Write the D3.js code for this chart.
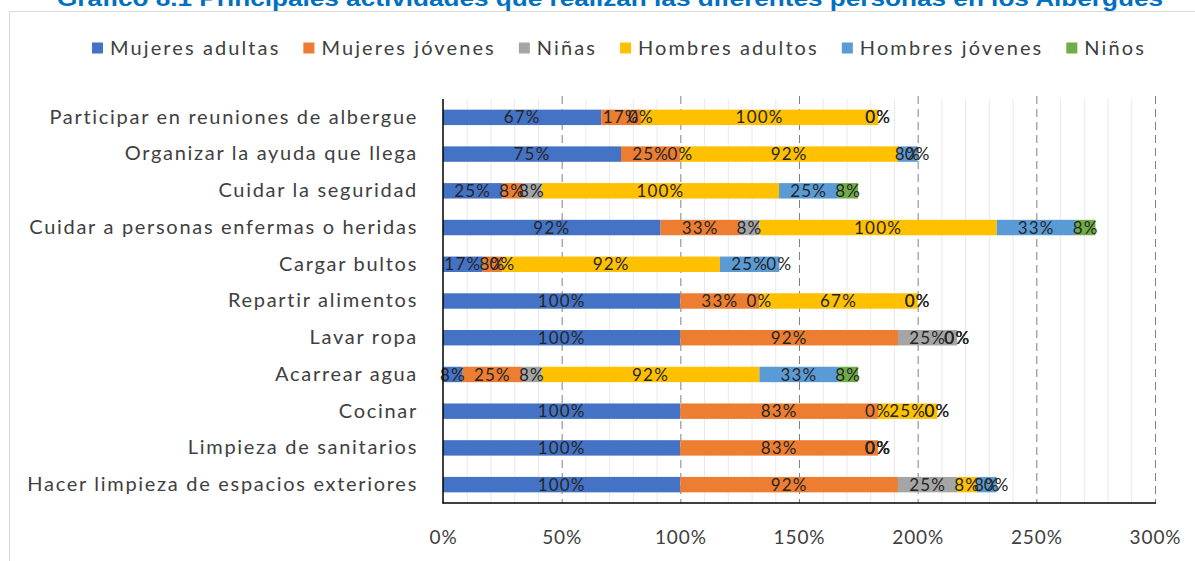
<!DOCTYPE html>
<html>
<head>
<meta charset="utf-8">
<script src="https://d3js.org/d3.v7.min.js"></script>
<style>
  body { margin:0; background:#fff; }
  svg { display:block; }
  text { font-family: Lato, "Open Sans", sans-serif; }
</style>
</head>
<body>
<script>
// datos (porcentajes)
var categories = [
  "Participar en reuniones de albergue",
  "Organizar la ayuda que llega",
  "Cuidar la seguridad",
  "Cuidar a personas enfermas o heridas",
  "Cargar bultos",
  "Repartir alimentos",
  "Lavar ropa",
  "Acarrear agua",
  "Cocinar",
  "Limpieza de sanitarios",
  "Hacer limpieza de espacios exteriores"
];
var seriesNames = ["Mujeres adultas", "Mujeres jóvenes", "Niñas", "Hombres adultos", "Hombres jóvenes", "Niños"];
var seriesColors = ["#4472C4", "#ED7D31", "#A5A5A5", "#FFC000", "#5B9BD5", "#70AD47"];
var mujeresAdultas = [66.7, 75, 25, 91.7, 16.7, 100, 100, 8.3, 100, 100, 100];
var mujeresJovenes = [16.7, 25, 8.3, 33.3, 8.3, 33.3, 91.7, 25, 83.3, 83.3, 91.7];
var ninas = [0, 0, 8.3, 8.3, 0, 0, 25, 8.3, 0, 0, 25];
var hombresAdultos = [100, 91.7, 100, 100, 91.7, 66.7, 0, 91.7, 25, 0, 8.3];
var hombresJovenes = [0, 8.3, 25, 33.3, 25, 0, 0, 33.3, 0, 0, 8.3];
var ninos = [0, 0, 8.3, 8.3, 0, 0, 0, 8.3, 0, 0, 0];
var xTicks = [0, 50, 100, 150, 200, 250, 300];
var title = "Gráfico 8.1 Principales actividades que realizan las diferentes personas en los Albergues";

var W = 1195, H = 561;
var seriesValues = [mujeresAdultas, mujeresJovenes, ninas, hombresAdultos, hombresJovenes, ninos];

var rows = categories.map(function (c, i) {
  var r = { cat: c };
  seriesNames.forEach(function (s, j) { r[s] = seriesValues[j][i]; });
  return r;
});
var stacked = d3.stack().keys(seriesNames)(rows);

var svg = d3.select("body").append("svg")
  .attr("width", W)
  .attr("height", H);

// marco del area del grafico
svg.append("rect")
  .attr("x", 9.5).attr("y", 11.5)
  .attr("width", 1300).attr("height", 700)
  .attr("fill", "none")
  .attr("stroke", "#d9d9d9");

svg.append("text")
  .attr("x", 610).attr("y", 6)
  .attr("text-anchor", "middle")
  .attr("textLength", 1106)
  .attr("lengthAdjust", "spacingAndGlyphs")
  .style("font-family", "'Liberation Sans', Arial, sans-serif")
  .style("font-weight", "bold")
  .style("font-size", "22px")
  .attr("fill", "#0070C0")
  .text(title);

var x = d3.scaleLinear().domain([0, 300]).range([443, 1155]);
var y = d3.scaleBand().domain(categories).range([99, 503]).paddingInner(0.58).paddingOuter(0.29);

// lineas de division menores y mayores
var minor = d3.range(10, 300, 10).filter(function (d) { return d % 50 != 0; });
svg.append("g").selectAll("line")
  .data(minor)
  .enter().append("line")
  .attr("x1", function (d) { return x(d) + 0.5; })
  .attr("x2", function (d) { return x(d) + 0.5; })
  .attr("y1", 99).attr("y2", 503)
  .attr("stroke", "#e9e9e9");

svg.append("g").selectAll("line")
  .data(xTicks.slice(1))
  .enter().append("line")
  .attr("x1", function (d) { return x(d) + 0.5; })
  .attr("x2", function (d) { return x(d) + 0.5; })
  .attr("y1", 96).attr("y2", 503)
  .attr("stroke", "#808080")
  .attr("stroke-dasharray", "8,5");

// barras
var groups = svg.append("g").selectAll("g")
  .data(stacked)
  .enter().append("g")
  .attr("fill", function (d, i) { return seriesColors[i]; });

groups.selectAll("rect")
  .data(function (d) { return d; })
  .enter().append("rect")
  .attr("x", function (d) { return x(d[0]); })
  .attr("y", function (d) { return y(d.data.cat); })
  .attr("width", function (d) { return x(d[1]) - x(d[0]); })
  .attr("height", y.bandwidth());

// etiquetas de datos
var fmt = function (v) { return Math.round(v) + "%"; };
svg.append("g").selectAll("g")
  .data(stacked)
  .enter().append("g")
  .selectAll("text")
  .data(function (d) { return d; })
  .enter().append("text")
  .attr("x", function (d) { return (x(d[0]) + x(d[1])) / 2; })
  .attr("y", function (d) { return y(d.data.cat) + y.bandwidth() / 2; })
  .attr("dy", "0.36em")
  .attr("text-anchor", "middle")
  .style("font-size", "17px")
  .style("letter-spacing", "1.2px")
  .attr("fill", "#262626")
  .text(function (d) { return fmt(d[1] - d[0]); });

// ejes
var yAxis = svg.append("g")
  .attr("transform", "translate(443,0)")
  .call(d3.axisLeft(y).tickSize(0).tickPadding(25));
yAxis.select(".domain").remove();
yAxis.selectAll("text")
  .style("font-family", "Lato, sans-serif")
  .style("font-size", "20px")
  .style("letter-spacing", "1.7px")
  .attr("fill", "#404040");

var xAxis = svg.append("g")
  .attr("transform", "translate(0,503)")
  .call(d3.axisBottom(x).tickValues(xTicks).tickSize(0).tickPadding(28).tickFormat(function (d) { return d + "%"; }));
xAxis.select(".domain").remove();
xAxis.selectAll("text")
  .style("font-family", "Lato, sans-serif")
  .style("font-size", "19px")
  .style("letter-spacing", "0.9px")
  .attr("fill", "#404040");

svg.append("line")
  .attr("x1", 443).attr("x2", 443)
  .attr("y1", 99).attr("y2", 503.5)
  .attr("stroke", "#000").attr("stroke-width", 1.5);
svg.append("line")
  .attr("x1", 442.5).attr("x2", x(300) + 1)
  .attr("y1", 503).attr("y2", 503)
  .attr("stroke", "#000").attr("stroke-width", 1.5);

// leyenda
var legend = svg.append("g").attr("transform", "translate(0,48)");
var cx = 92;
seriesNames.forEach(function (s, i) {
  legend.append("rect")
    .attr("x", cx).attr("y", -5.5)
    .attr("width", 11).attr("height", 11)
    .attr("fill", seriesColors[i]);
  var t = legend.append("text")
    .attr("x", cx + 18).attr("y", 0)
    .attr("dy", "0.36em")
    .style("font-size", "20px")
    .style("letter-spacing", "2.1px")
    .attr("fill", "#404040")
    .text(s);
  cx = cx + 18 + t.node().getComputedTextLength() + 23;
});
</script>
</body>
</html>
